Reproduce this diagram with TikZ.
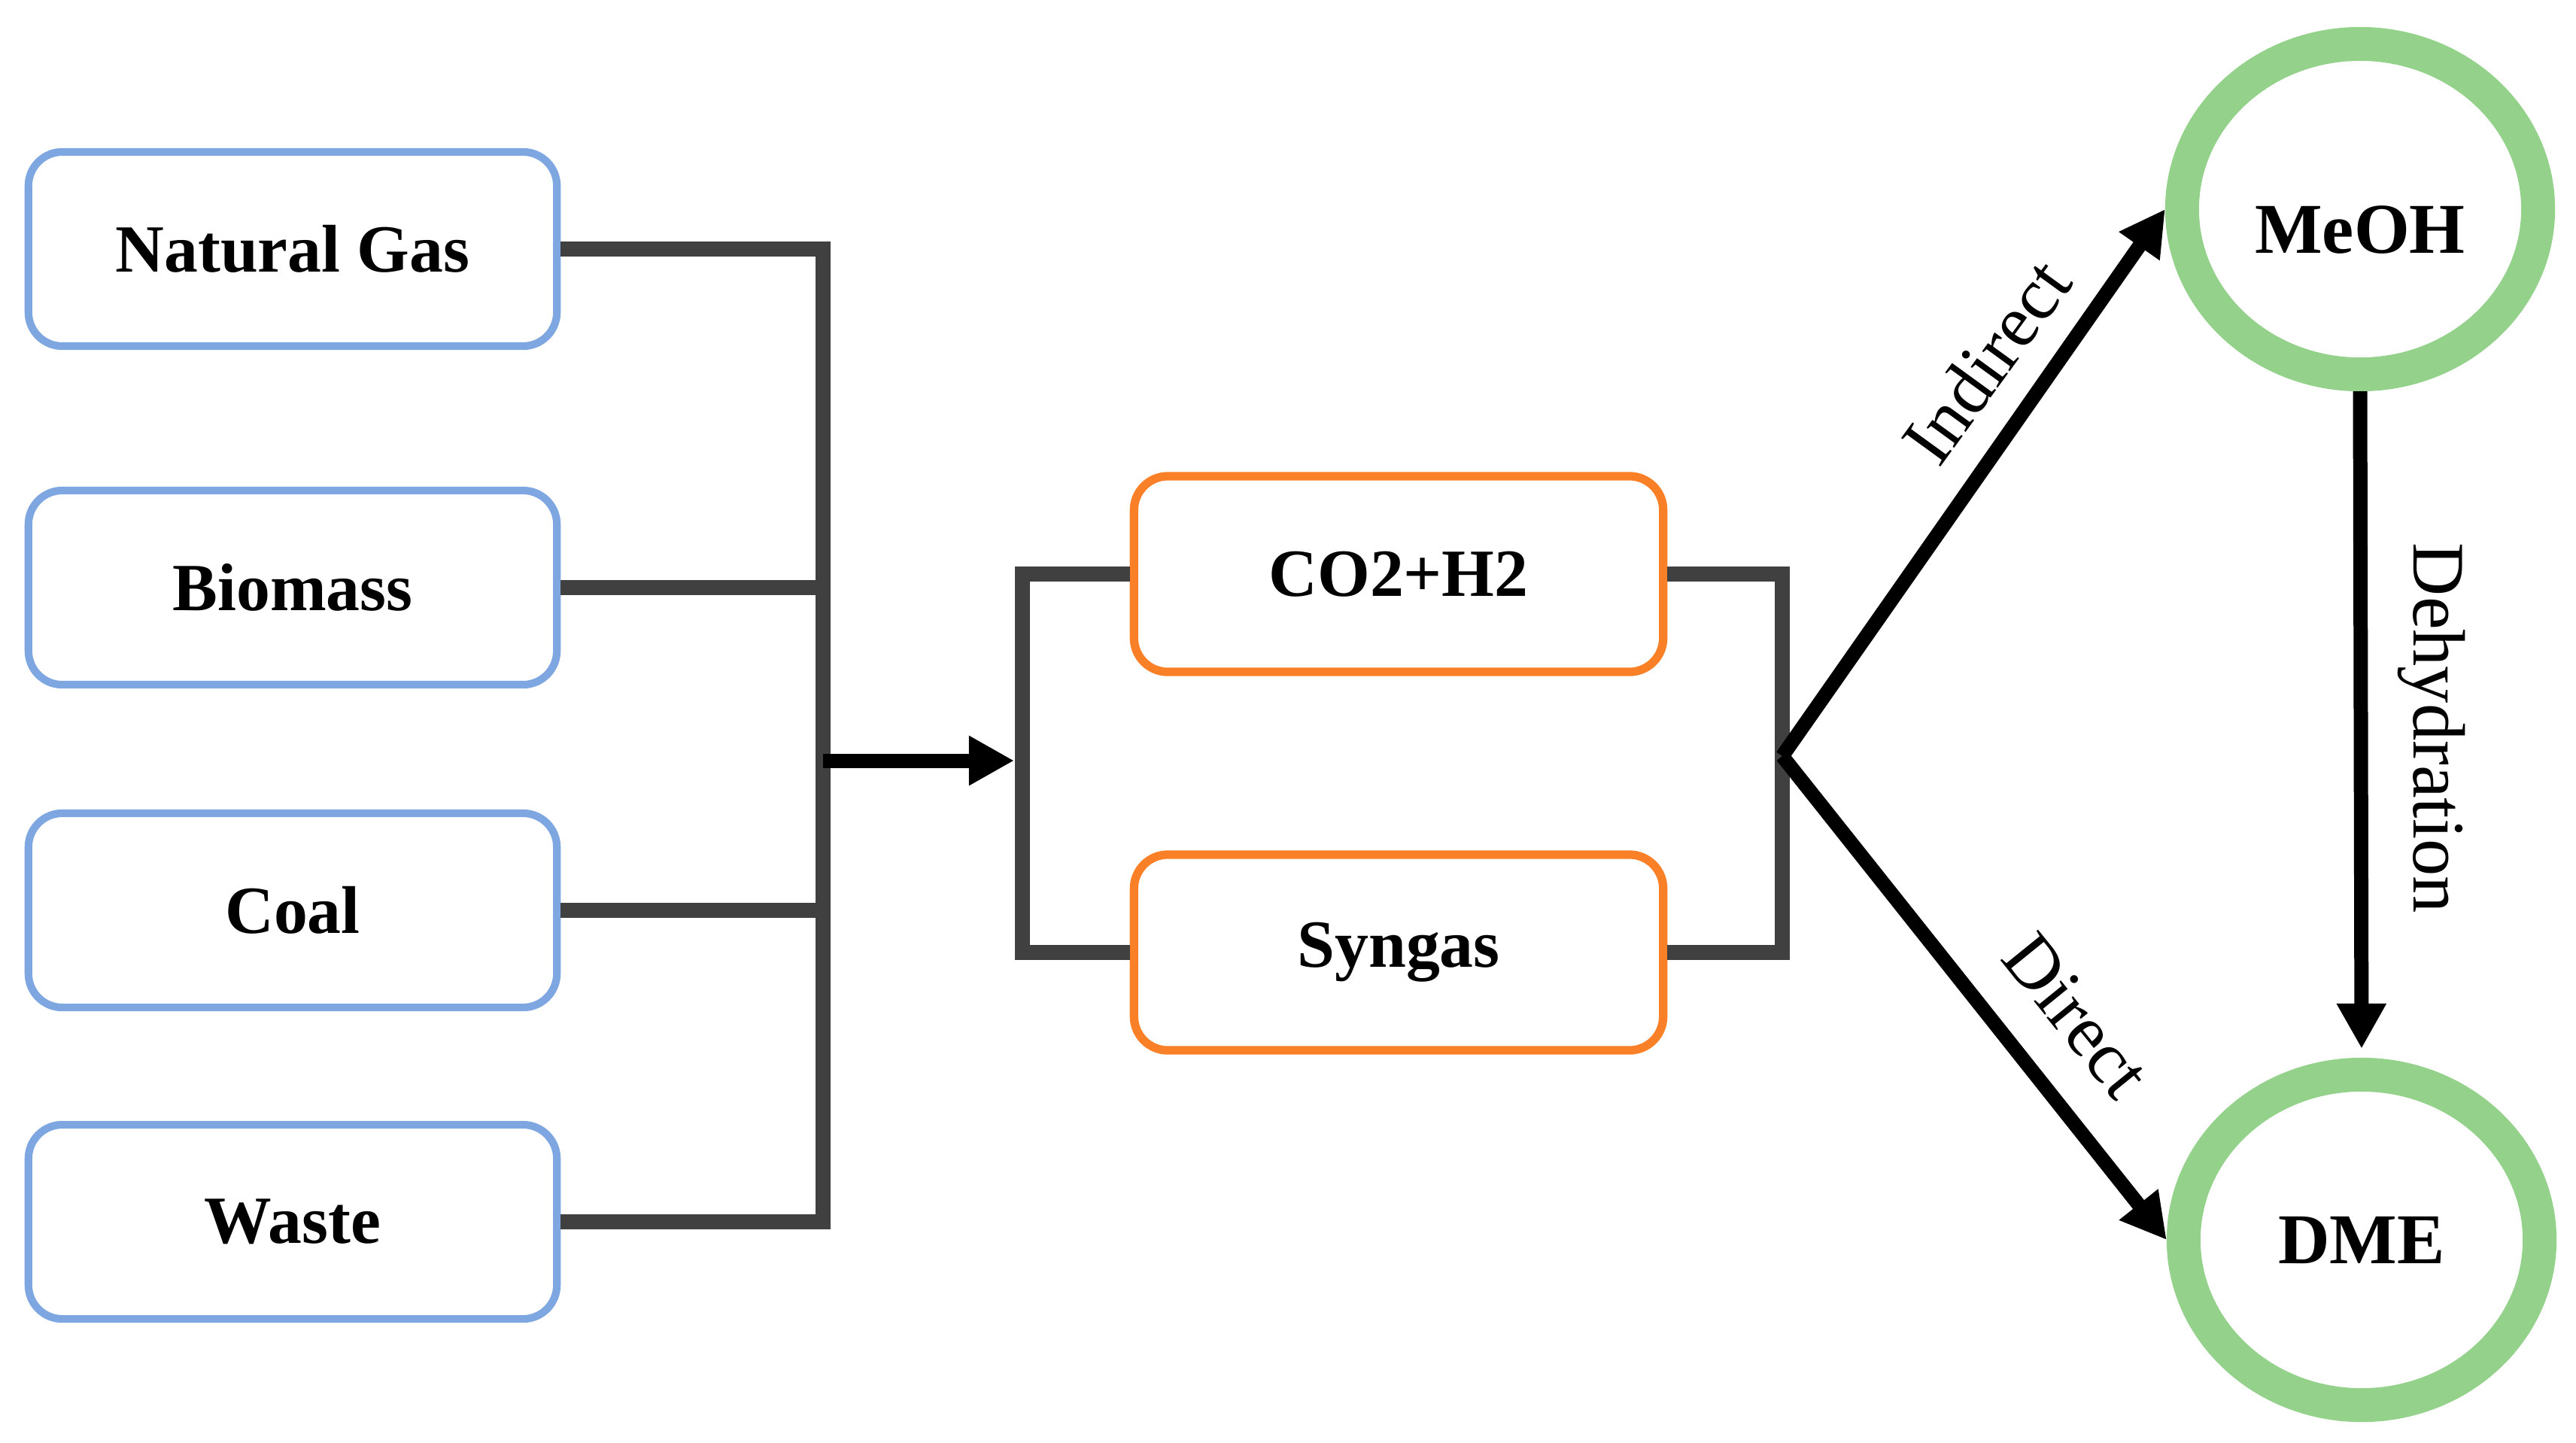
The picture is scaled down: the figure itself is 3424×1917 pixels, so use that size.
\documentclass[tikz,border=0pt]{standalone}
\usepackage{fontspec}
\setmainfont{Liberation Serif}
\usetikzlibrary{arrows.meta,shapes.geometric}
\definecolor{boxblue}{RGB}{126,166,224}
\definecolor{boxorange}{RGB}{250,128,40}
\definecolor{ringgreen}{RGB}{148,210,140}
\definecolor{linegray}{RGB}{64,64,64}
\begin{document}
\begin{tikzpicture}[x=0.01cm,y=-0.01cm,
  srcbox/.style={draw=boxblue, line width=2.9pt, rounded corners=0.45cm,
    minimum width=7.02cm, minimum height=2.58cm, inner sep=0pt,
    font=\fontsize{25.5}{30}\selectfont\bfseries},
  midbox/.style={draw=boxorange, line width=3.2pt, rounded corners=0.45cm,
    minimum width=7.03cm, minimum height=2.6cm, inner sep=0pt,
    font=\fontsize{25.5}{30}\selectfont\bfseries},
  ring/.style={ellipse, draw=ringgreen, line width=12.8pt,
    minimum width=4.73cm, minimum height=4.39cm, outer sep=0.225cm, inner sep=0pt,
    font=\fontsize{27}{32}\selectfont\bfseries},
  wire/.style={draw=linegray, line width=5.6pt},
  flow/.style={draw=black, line width=5.4pt, -{Triangle[length=0.6cm,width=0.62cm]}},
  lbl/.style={font=\fontsize{28}{32}\selectfont, inner sep=0pt}
]
\useasboundingbox (0,0) rectangle (3424,1917);

% source boxes
\node[srcbox] (ng)    at (389,331)  {Natural Gas};
\node[srcbox] (bio)   at (389,781)  {Biomass};
\node[srcbox] (coal)  at (389,1210) {Coal};
\node[srcbox] (waste) at (389,1624) {Waste};

% intermediate boxes
\node[midbox] (co2)    at (1859,763)  {CO2+H2};
\node[midbox] (syngas) at (1859,1266) {Syngas};

% products
\node[ring, label={[font=\fontsize{27}{32}\selectfont\bfseries, yshift=-0.28cm]center:MeOH}] (meoh) at (3137,278) {};
\node[ring] (dme)  at (3139,1648) {DME};

% collecting bus
\coordinate (bus) at (1094,1011);
\draw[wire] (ng.east) -| (bus);
\draw[wire] (waste.east) -| (bus);
\draw[wire] (bio.east) -- (bio.east -| bus);
\draw[wire] (coal.east) -- (coal.east -| bus);

% split bracket
\coordinate (br2) at (1359,1011);
\draw[flow, shorten >=0.11cm] (bus) -- (br2);
\draw[wire] (co2.west) -| (br2);
\draw[wire] (syngas.west) -| (br2);

% join bracket
\coordinate (br3) at (2369,1005);
\draw[wire] (co2.east) -| (br3);
\draw[wire] (syngas.east) -| (br3);

% routes to products
\draw[flow] (br3) -- (meoh.west);
\draw[flow] (br3) -- (dme.west);
\draw[flow, shorten >=0.12cm] (meoh.south) -- (dme.north);

% labels
\node[lbl, rotate=54]  (lind) at (2640,480)  {Indirect};
\node[lbl, rotate=-51] (ldir) at (2760,1350) {Direct};
\node[lbl, rotate=-90] (ldeh) at (3232,968)  {Dehydration};
\end{tikzpicture}
\end{document}
